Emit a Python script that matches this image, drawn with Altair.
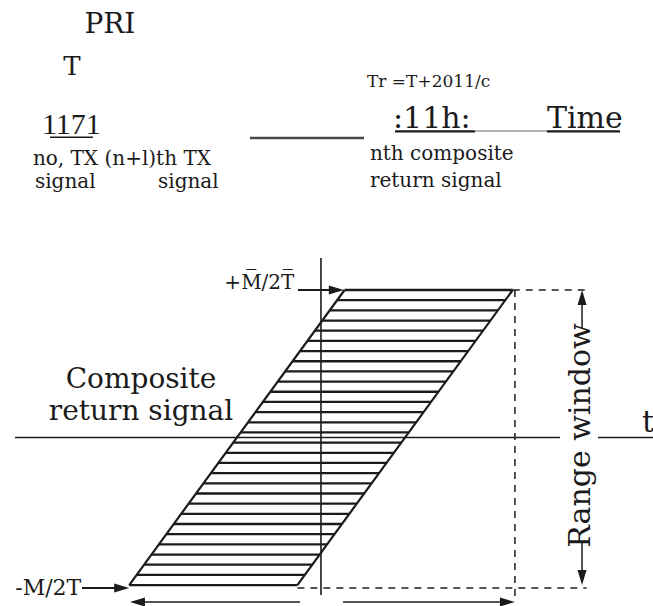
import altair as alt
import pandas as pd

# ---------------------------------------------------------------------------
# Range-Doppler picture of a stepped-frequency radar return.
# Vertical axis: Doppler, normalised so that +/-M/2T sits at +/-1.
# Horizontal axis: time t (same unit scale as the Doppler axis).
# ---------------------------------------------------------------------------
DOPPLER_LIMITS = [-1.0, 1.0]       # -M/2T, +M/2T
HATCH_ROWS = 30                    # compressed returns drawn inside the strip
SKEW = 0.73                        # time shift per unit Doppler
HALF_PULSE = 0.57                  # half length of each return strip
RANGE_WINDOW_T = 1.315             # end of the range window on the time axis
AXIS_TOP, AXIS_BOTTOM = 1.217, -1.068

SERIF = "DejaVu Serif"
INK = "#1b1b1b"

X_DOMAIN = [-2.176, 2.251]
Y_DOMAIN = [-1.142, 2.966]
W, H = 653, 606

lo, hi = DOPPLER_LIMITS
rows = [lo + (hi - lo) * i / (HATCH_ROWS - 1) for i in range(HATCH_ROWS)]


def lead(f):
    return SKEW * f - HALF_PULSE


def trail(f):
    return SKEW * f + HALF_PULSE


hatch = pd.DataFrame({
    "x": [lead(f) for f in rows],
    "x2": [trail(f) for f in rows],
    "y": rows,
    "y2": rows,
})

edges = pd.DataFrame({
    "x": [lead(lo), trail(lo)],
    "x2": [lead(hi), trail(hi)],
    "y": [lo, lo],
    "y2": [hi, hi],
})

# solid construction lines: axes and arrow shafts
solid = pd.DataFrame([
    # Doppler axis
    dict(x=0.0, y=AXIS_TOP, x2=0.0, y2=AXIS_BOTTOM, w=1.6),
    # time axis (broken where the range-window label sits)
    dict(x=-2.075, y=0.0, x2=1.62, y2=0.0, w=1.6),
    dict(x=1.878, y=0.0, x2=2.26, y2=0.0, w=1.6),
    # +M/2T and -M/2T pointers
    dict(x=-0.156, y=hi, x2=0.08, y2=hi, w=1.8),
    dict(x=-1.62, y=-1.02, x2=-1.36, y2=-1.02, w=1.8),
    # range window extent
    dict(x=1.77, y=0.93, x2=1.77, y2=0.742, w=1.5),
    dict(x=1.77, y=-0.715, x2=1.77, y2=-0.93, w=1.5),
    # span arrows under the strip
    dict(x=-1.22, y=-1.115, x2=-0.142, y2=-1.115, w=1.6),
    dict(x=0.149, y=-1.115, x2=1.24, y2=-1.115, w=1.6),
])

dashed = pd.DataFrame([
    dict(x=trail(hi), y=hi, x2=1.80, y2=hi),
    dict(x=RANGE_WINDOW_T, y=hi, x2=RANGE_WINDOW_T, y2=-1.10),
    dict(x=trail(lo), y=-1.02, x2=1.80, y2=-1.02),
])

heads = pd.DataFrame([
    dict(x=lead(hi) - 0.005, y=hi, a=0),
    dict(x=lead(lo), y=-1.02, a=0),
    dict(x=1.77, y=hi, a=270),
    dict(x=1.77, y=-1.0, a=90),
    dict(x=-1.295, y=-1.115, a=180),
    dict(x=RANGE_WINDOW_T, y=-1.115, a=0),
])

# header: pulse train along the time line
header_lines = pd.DataFrame([
    dict(x=-0.481, y=2.031, x2=0.292, y2=2.031, w=2.6, c="#4a4a4a"),
    dict(x=-1.837, y=2.036, x2=-1.546, y2=2.036, w=1.4, c=INK),
    dict(x=0.502, y=2.076, x2=1.044, y2=2.076, w=2.2, c=INK),
    dict(x=1.044, y=2.078, x2=1.532, y2=2.078, w=1.1, c="#6a6a6a"),
    dict(x=1.532, y=2.076, x2=2.027, y2=2.076, w=2.2, c=INK),
])

labels_left = pd.DataFrame([
    dict(t="no, TX (n+l)th TX", x=-1.953, y=1.847, s=20),
    dict(t="signal", x=-1.939, y=1.692, s=20),
    dict(t="signal", x=-1.105, y=1.692, s=20),
    dict(t="Tr =T+2011/c", x=0.312, y=2.376, s=17),
    dict(t=":11h:", x=0.488, y=2.098, s=30),
    dict(t="Time", x=1.532, y=2.098, s=30),
    dict(t="nth composite", x=0.332, y=1.881, s=20),
    dict(t="return signal", x=0.332, y=1.698, s=20),
    dict(t="t", x=2.176, y=0.037, s=30),
])

labels_center = pd.DataFrame([
    dict(t="PRI", x=-1.431, y=2.742, s=28),
    dict(t="T", x=-1.688, y=2.458, s=26),
])

# two-line caption of the hatched strip
caption = pd.DataFrame([
    dict(t="Composite\nreturn signal", x=-1.220, y=0.335, s=28),
])

labels_right = pd.DataFrame([
    dict(t="+M\u0305/2T\u0305", x=-0.180, y=1.010, s=20),
    dict(t="-M/2T", x=-1.625, y=-1.068, s=22),
])

counter = pd.DataFrame([dict(t="1171", x=-1.692, y=2.058, s=30)])
range_label = pd.DataFrame([dict(t="Range window", x=1.765, y=0.014, s=30)])

xs = alt.Scale(domain=X_DOMAIN, nice=False, zero=False)
ys = alt.Scale(domain=Y_DOMAIN, nice=False, zero=False)
X = alt.X("x:Q", scale=xs, axis=None)
Y = alt.Y("y:Q", scale=ys, axis=None)


def segments(df, **mark):
    return alt.Chart(df).mark_rule(**mark).encode(
        x=X, y=Y, x2="x2:Q", y2="y2:Q"
    )


hatch_layer = segments(hatch, color=INK, strokeWidth=2.3)
edge_layer = segments(edges, color=INK, strokeWidth=2.2)
solid_layer = alt.Chart(solid).mark_rule(color=INK).encode(
    x=X, y=Y, x2="x2:Q", y2="y2:Q",
    strokeWidth=alt.StrokeWidth("w:Q", scale=None),
)
dashed_layer = segments(dashed, color="#1e1e1e", strokeWidth=1.5,
                        strokeDash=[7, 6])
header_layer = alt.Chart(header_lines).mark_rule().encode(
    x=X, y=Y, x2="x2:Q", y2="y2:Q",
    strokeWidth=alt.StrokeWidth("w:Q", scale=None),
    color=alt.Color("c:N", scale=None),
)

head_layer = alt.Chart(heads).mark_point(
    shape="M 0 0 L -1 -0.3 L -1 0.3 Z", filled=True, color=INK,
    opacity=1, size=900, strokeWidth=0,
).encode(x=X, y=Y, angle=alt.Angle("a:Q", scale=None))


def text_layer(df, align, font=SERIF, angle=0, baseline="alphabetic", **kw):
    return alt.Chart(df).mark_text(
        align=align, baseline=baseline, font=font, color=INK, angle=angle,
        **kw,
    ).encode(x=X, y=Y, text="t:N", size=alt.Size("s:Q", scale=None))


chart = alt.layer(
    hatch_layer,
    edge_layer,
    solid_layer,
    dashed_layer,
    header_layer,
    head_layer,
    text_layer(labels_left, "left"),
    text_layer(labels_center, "center"),
    text_layer(caption, "center", lineBreak="\n", lineHeight=32),
    text_layer(labels_right, "right"),
    text_layer(counter, "center", font="Liberation Serif"),
    text_layer(range_label, "center", angle=270, baseline="middle"),
).properties(
    width=W, height=H, padding=0, background="white",
    autosize=alt.AutoSizeParams(type="none"),
).configure_view(stroke=None)

chart.save("out.html", embed_options={"renderer": "svg", "actions": False})
